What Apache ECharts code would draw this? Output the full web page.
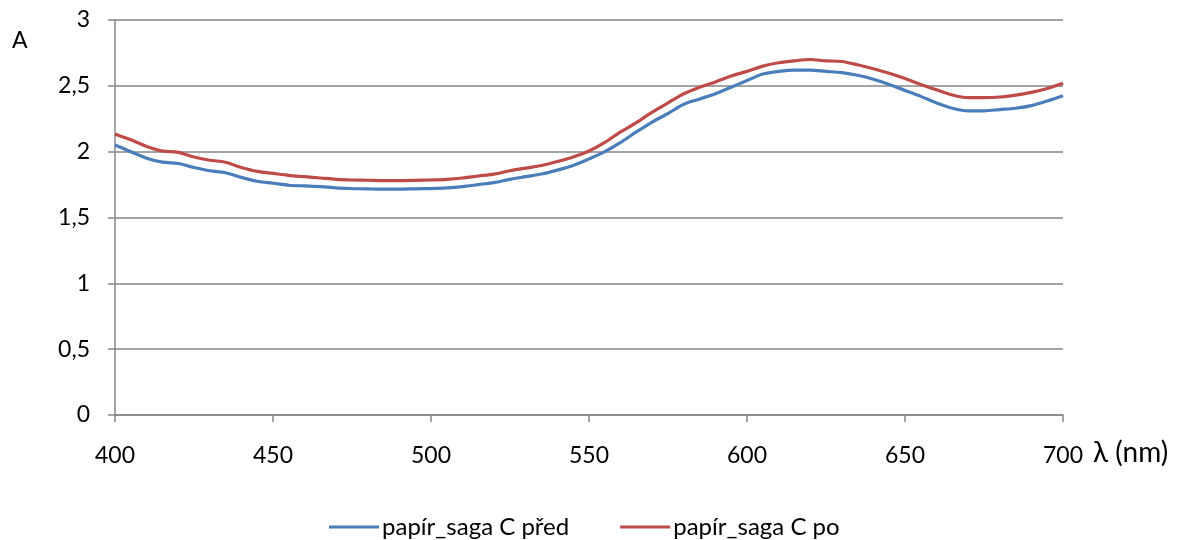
<!DOCTYPE html>
<html>
<head>
<meta charset="utf-8">
<script src="https://cdn.jsdelivr.net/npm/echarts@6/dist/echarts.min.js"></script>
<style>
  html, body { margin: 0; padding: 0; background: #fff; }
  #chart { width: 1185px; height: 540px; }
</style>
</head>
<body>
<div id="chart"></div>
<script>
// vlnová délka (nm)
var wavelengths = [400, 405, 410, 415, 420, 425, 430, 435, 440, 445, 450, 455, 460, 465, 470, 475, 480, 485, 490, 495,
  500, 505, 510, 515, 520, 525, 530, 535, 540, 545, 550, 555, 560, 565, 570, 575, 580, 585, 590, 595,
  600, 605, 610, 615, 620, 625, 630, 635, 640, 645, 650, 655, 660, 665, 670, 675, 680, 685, 690, 695, 700]
// absorbance - před
var absPred = [2.05, 2.00, 1.95, 1.92, 1.91, 1.88, 1.855, 1.84, 1.805, 1.775, 1.76, 1.745, 1.74, 1.735, 1.725, 1.72, 1.717, 1.715, 1.715, 1.718,
  1.72, 1.725, 1.735, 1.75, 1.765, 1.79, 1.81, 1.83, 1.86, 1.895, 1.945, 2.00, 2.07, 2.15, 2.225, 2.29, 2.36, 2.40, 2.44, 2.49,
  2.54, 2.59, 2.61, 2.62, 2.62, 2.61, 2.60, 2.58, 2.55, 2.51, 2.465, 2.42, 2.37, 2.33, 2.31, 2.31, 2.32, 2.33, 2.35, 2.385, 2.425]
// absorbance - po
var absPo = [2.135, 2.09, 2.04, 2.005, 1.995, 1.96, 1.935, 1.92, 1.88, 1.85, 1.835, 1.82, 1.81, 1.80, 1.79, 1.785, 1.783, 1.78, 1.78, 1.782,
  1.785, 1.79, 1.80, 1.815, 1.83, 1.855, 1.875, 1.895, 1.925, 1.96, 2.005, 2.07, 2.15, 2.22, 2.30, 2.37, 2.44, 2.49, 2.53, 2.575,
  2.61, 2.65, 2.675, 2.69, 2.70, 2.69, 2.685, 2.66, 2.63, 2.595, 2.555, 2.51, 2.47, 2.43, 2.41, 2.41, 2.415, 2.43, 2.45, 2.48, 2.52]

var seriesNames = ['papír_saga C před', 'papír_saga C po']
var seriesColors = ['#4a7ebb', '#be4b48']

var FONT = 'Lato'
var myChart = echarts.init(document.getElementById('chart'))

function pairs (ys) {
  return wavelengths.map(function (x, i) { return [x, ys[i]] })
}

var option = {
  animation: false,
  textStyle: { fontFamily: FONT },
  grid: { left: 115, right: 122, top: 20, bottom: 125 },
  legend: {
    top: 510,
    left: 324,
    icon: 'rect',
    itemWidth: 50,
    itemHeight: 3,
    itemGap: 51,
    textStyle: { fontFamily: FONT, fontSize: 24, color: '#000', padding: [0, 0, 0, -2] },
    data: seriesNames
  },
  xAxis: {
    type: 'value',
    min: 400,
    max: 700,
    interval: 50,
    axisLine: { show: true, lineStyle: { color: '#868686', width: 1.5 } },
    axisTick: { show: true, length: 7, lineStyle: { color: '#868686', width: 1.5 } },
    axisLabel: { margin: 29, fontSize: 23, color: '#000', fontFamily: FONT },
    splitLine: { show: false }
  },
  yAxis: {
    type: 'value',
    min: 0,
    max: 3,
    interval: 0.5,
    axisLine: { show: true, lineStyle: { color: '#868686', width: 1.5 } },
    axisTick: { show: true, length: 7, lineStyle: { color: '#868686', width: 1.5 } },
    axisLabel: {
      margin: 25,
      fontSize: 23,
      color: '#000',
      fontFamily: FONT,
      formatter: function (v) { return String(v).replace('.', ',') }
    },
    splitLine: { show: true, lineStyle: { color: '#868686', width: 1.5 } }
  },
  graphic: [
    { type: 'text', left: 12, top: 29, style: { text: 'A', font: '23px Lato', fill: '#000' } },
    { type: 'text', left: 1093, top: 439, style: { text: 'λ (nm)', font: '28px Lato', fill: '#000' } }
  ],
  series: [
    {
      name: seriesNames[0],
      type: 'line',
      smooth: 0.3,
      showSymbol: false,
      lineStyle: { width: 3.2, color: seriesColors[0] },
      itemStyle: { color: seriesColors[0] },
      data: pairs(absPred)
    },
    {
      name: seriesNames[1],
      type: 'line',
      smooth: 0.3,
      showSymbol: false,
      lineStyle: { width: 3.2, color: seriesColors[1] },
      itemStyle: { color: seriesColors[1] },
      data: pairs(absPo)
    }
  ]
}

myChart.setOption(option)
</script>
</body>
</html>
